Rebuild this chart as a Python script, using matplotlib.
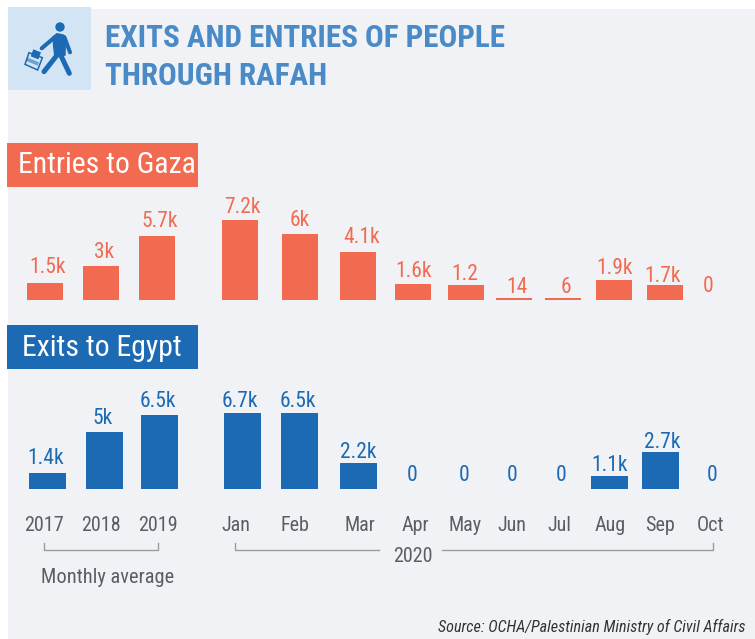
"""Exits and entries of people through Rafah - bars for monthly averages and 2020 months."""

import matplotlib
matplotlib.use("Agg")
import matplotlib.pyplot as plt
from matplotlib.patches import Circle, Polygon, Rectangle
from matplotlib import font_manager as fm

W, H = 755, 639

months = ["2017", "2018", "2019", "Jan", "Feb", "Mar", "Apr", "May", "Jun", "Jul", "Aug", "Sep", "Oct"]

# labels as printed, heights (people)
entries_labels = ["1.5k", "3k", "5.7k", "7.2k", "6k", "4.1k", "1.6k", "1.2", "14", "6", "1.9k", "1.7k", "0"]
entries_values = [1500, 3050, 5800, 7200, 6000, 4350, 1450, 1350, 180, 180, 1800, 1350, 0]
exits_labels = ["1.4k", "5k", "6.5k", "6.7k", "6.5k", "2.2k", "0", "0", "0", "0", "1.1k", "2.7k", "0"]
exits_values = [1400, 5030, 6530, 6700, 6700, 2290, 0, 0, 0, 0, 1150, 3260, 0]

# x placement is hand laid out in the original, not evenly spaced
entries_x = [45, 101, 157, 240, 300, 358, 413, 466, 514, 563, 614, 665, 708]
entries_label_x = [48, 104, 160, 242, 300, 362, 414, 465, 517, 566, 615, 663, 708]
entries_label_gap = [10, 8, 9, 7, 8, 9, 7, 5, 5, 5, 6, 3, 7]
exits_x = [47.5, 104.5, 159.5, 242.5, 299.5, 358.5, 412, 464, 512, 561, 609.5, 660.5, 712]
exits_label_x = [46, 103, 158, 240, 298, 358, 412, 464, 512, 561, 610, 662, 712]
exits_label_gap = [9, 8, 8, 6, 6, 5, 8, 8, 8, 8, 5, 4, 8]
tick_x = [44, 101, 158, 236, 295, 360, 415, 465, 512, 559, 610, 660, 711]

RED = "#F26B50"
BLUE = "#1B6AB3"
TITLE = "#4A8BC7"
PANEL = "#F1F2F5"
ICON_BG = "#D3E5F5"
GREY = "#5A5E62"
LINE = "#9A9C9E"

installed = {f.name for f in fm.fontManager.ttflist}
FONT = "Roboto Condensed" if "Roboto Condensed" in installed else "Liberation Sans Narrow"
plt.rcParams["font.family"] = FONT

fig = plt.figure(figsize=(W / 100, H / 100), dpi=100, facecolor="white")

# backdrop in pixel coordinates
deco = fig.add_axes([0, 0, 1, 1], zorder=0)
deco.set_xlim(0, W)
deco.set_ylim(H, 0)
deco.axis("off")
deco.add_patch(Rectangle((8, 9), W - 8, H - 9, color=PANEL, lw=0))
deco.add_patch(Rectangle((8, 7), 83, 83, color=ICON_BG, lw=0))
deco.add_patch(Rectangle((7, 143), 191, 44, color=RED, lw=0))
deco.add_patch(Rectangle((7, 325), 191, 44, color=BLUE, lw=0))

deco.text(105, 47, "EXITS AND ENTRIES OF PEOPLE", color=TITLE, fontsize=22.4, fontweight="bold")
deco.text(105, 85, "THROUGH RAFAH", color=TITLE, fontsize=22.4, fontweight="bold")
deco.text(18, 173, "Entries to Gaza", color="white", fontsize=21.4)
deco.text(22, 356, "Exits to Egypt", color="white", fontsize=21.4)


def icon_pts(pts):
    return [(15 + px / 3, 15 + py / 3) for px, py in pts]


deco.add_patch(Circle(icon_pts([(135, 36)])[0], 4.7, color=BLUE, lw=0))
deco.add_patch(Polygon(icon_pts([(112, 65), (125, 54), (146, 58), (153, 85), (152, 122), (118, 128), (114, 95)]),
                       color=BLUE, lw=0))
for pts, lw in [([(120, 66), (80, 100)], 2.9), ([(148, 66), (165, 112)], 2.9),
                ([(128, 118), (87, 170)], 3.6), ([(136, 118), (163, 175)], 3.6)]:
    (x0, y0), (x1, y1) = icon_pts(pts)
    deco.plot([x0, x1], [y0, y1], color=BLUE, lw=lw, solid_capstyle="round")
deco.add_patch(Polygon(icon_pts([(42, 113), (82, 128), (68, 165), (30, 148)]), fc=ICON_BG, ec=BLUE, lw=1.1))
deco.add_patch(Polygon(icon_pts([(55, 103), (78, 112), (70, 133), (47, 124)]), color=BLUE, lw=0))
deco.add_patch(Polygon(icon_pts([(38, 128), (72, 142), (68, 152), (34, 138)]), color=BLUE, lw=0, alpha=0.55))

# brackets under the month labels
deco.plot([44, 44, 158, 158], [543, 550, 550, 543], color=LINE, lw=1)
deco.plot([235, 235, 379], [543, 550, 550], color=LINE, lw=1)
deco.plot([442, 712.5, 712.5], [550, 550, 543], color=LINE, lw=1)
deco.text(413, 562, "2020", color=GREY, fontsize=14.5, ha="center")
deco.text(108, 583, "Monthly average", color=GREY, fontsize=14.7, ha="center")
deco.text(745, 632, "Source: OCHA/Palestinian Ministry of Civil Affairs", color="#333333",
          fontsize=11.6, style="italic", ha="right")


def bar_panel(baseline, px_per_person, values, x, width, labels, label_x, gaps, color):
    """One transparent bar axes that spans the figure width, with its base at pixel row baseline."""
    top_px = 190
    ax = fig.add_axes([0, 1 - baseline / H, 1, (baseline - top_px) / H], zorder=1)
    ax.patch.set_alpha(0)
    ax.set_xlim(0, W)
    ax.set_ylim(0, (baseline - top_px) / px_per_person)
    ax.bar(x, values, width=width, color=color, lw=0)
    for i, label in enumerate(labels):
        ax.annotate(label, (label_x[i], values[i]), xytext=(0, gaps[i]), textcoords="offset pixels",
                    ha="center", va="baseline", color=color, fontsize=15.5)
    for side in ax.spines.values():
        side.set_visible(False)
    ax.set_yticks([])
    ax.set_xticks([])
    return ax


ax_in = bar_panel(299.5, 0.011, entries_values, entries_x, 36, entries_labels,
                  entries_label_x, entries_label_gap, RED)
ax_out = bar_panel(489, 0.01134, exits_values, exits_x, 37, exits_labels,
                   exits_label_x, exits_label_gap, BLUE)
ax_out.set_xticks(tick_x, labels=months, color=GREY, fontsize=14.5)
ax_out.tick_params(axis="x", length=0, pad=19.5)

fig.savefig("out.png", dpi=100)
plt.close(fig)
